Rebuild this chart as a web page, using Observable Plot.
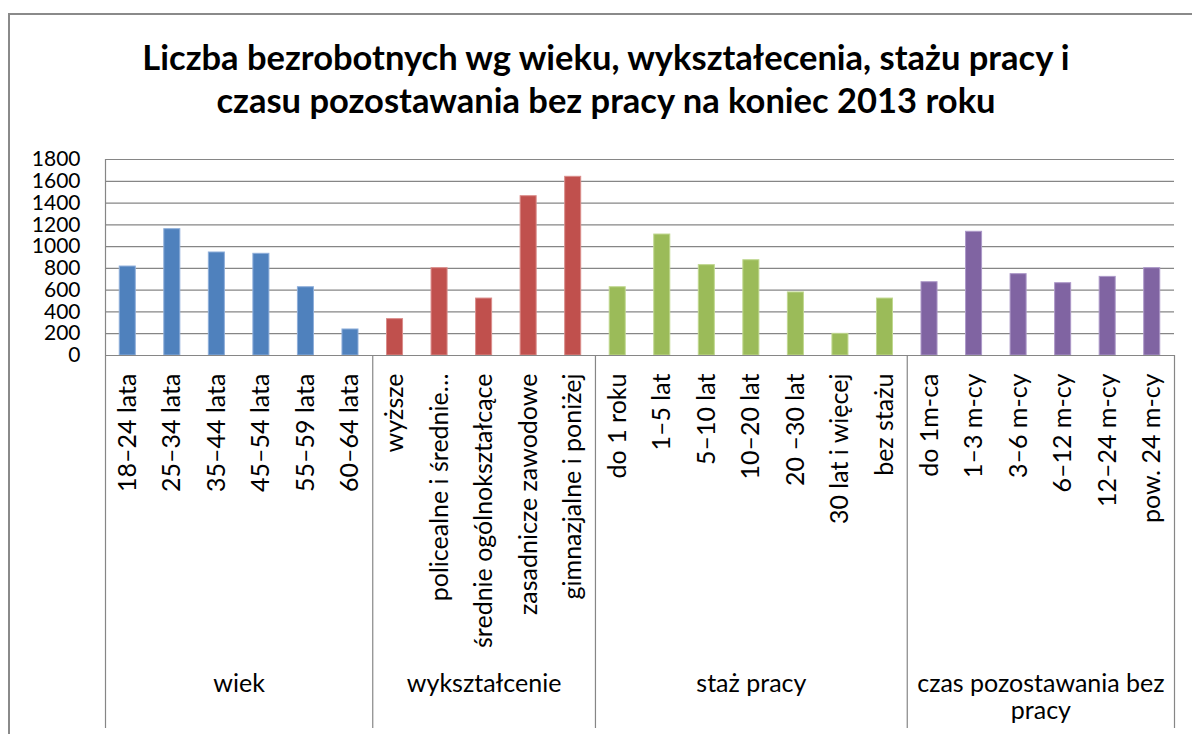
<!DOCTYPE html>
<html>
<head>
<meta charset="utf-8">
<script src="https://cdn.jsdelivr.net/npm/d3@7"></script>
<script src="https://cdn.jsdelivr.net/npm/@observablehq/plot@0.6"></script>
<style>
  html, body { margin: 0; padding: 0; background: #fff; }
  #wrap { position: relative; width: 1192px; height: 734px; overflow: hidden; font-family: Lato, "Open Sans", sans-serif; }
  #border { position: absolute; left: 8px; top: 13px; width: 1250px; height: 800px; border: 2px solid #8a8a8a; box-sizing: border-box; }
  #title { position: relative; height: 140px; box-sizing: border-box; padding-top: 35px; text-align: center; font-weight: 700; font-size: 34.5px; line-height: 43px; color: #000; padding-left: 20px; white-space: nowrap; }
  #chart { position: relative; }
</style>
</head>
<body>
<div id="wrap">
  <div id="border"></div>
  <div id="title"></div>
  <div id="chart"></div>
</div>
<script>
const titleLines = ["Liczba bezrobotnych wg wieku, wykształecenia, stażu pracy i", "czasu pozostawania bez pracy na koniec 2013 roku"];

const groups = ["wiek", "wykształcenie", "staż pracy", "czas pozostawania bez pracy"];
const groupColors = ["#4F81BD", "#C0504D", "#9BBB59", "#8064A2"];
const groupStrokes = ["#8EAEDA", "#DA8C8A", "#C0D890", "#AC98C8"];

const wiekCats = ["18–24 lata", "25–34 lata", "35–44 lata", "45–54 lata", "55–59 lata", "60–64 lata"];
const wiekValues = [817, 1160, 946, 934, 627, 239];

const wyksztCats = ["wyższe", "policealne i średnie…", "średnie ogólnokształcące", "zasadnicze zawodowe", "gimnazjalne i poniżej"];
const wyksztValues = [334, 802, 523, 1463, 1641];

const stazCats = ["do 1 roku", "1–5 lat", "5–10 lat", "10–20 lat", "20 –30 lat", "30 lat i więcej", "bez stażu"];
const stazValues = [627, 1111, 830, 875, 579, 199, 523];

const czasCats = ["do 1m-ca", "1–3 m-cy", "3–6 m-cy", "6–12 m-cy", "12–24 m-cy", "pow. 24 m-cy"];
const czasValues = [673, 1136, 747, 664, 722, 802];

const yTicks = [0, 200, 400, 600, 800, 1000, 1200, 1400, 1600, 1800];

// build table
const groupCats = [wiekCats, wyksztCats, stazCats, czasCats];
const groupVals = [wiekValues, wyksztValues, stazValues, czasValues];
const rows = [];
const groupSpans = [];
let idx = 0;
groupCats.forEach((cats, g) => {
  const start = idx;
  cats.forEach((c, j) => { rows.push({i: idx, cat: c, value: groupVals[g][j], group: groups[g]}); idx++; });
  groupSpans.push({group: groups[g], start, end: idx, mid: (start + idx) / 2});
});
const N = idx;
const innerBounds = groupSpans.map(s => s.end);

document.getElementById("title").innerHTML = titleLines.map(t => `<div>${t}</div>`).join("");

const gridColor = "#868686";
const barPad = 0.32;

const plot = Plot.plot({
  width: 1192,
  height: 594,
  marginTop: 19,
  marginBottom: 379,
  marginLeft: 105,
  marginRight: 18,
  style: {fontFamily: "Lato, 'Open Sans', sans-serif", color: "#000", background: "transparent", overflow: "visible"},
  x: {domain: [0, N], axis: null},
  y: {domain: [0, 1800], axis: null},
  color: {domain: groups, range: groupColors},
  marks: [
    Plot.gridY(yTicks, {stroke: gridColor, strokeOpacity: 1, strokeWidth: 1.2}),
    Plot.axisY(yTicks, {tickSize: 0, tickPadding: 25, fontSize: 21, fill: "#000", label: null, tickFormat: d => String(d)}),
    Plot.rectY(rows, {
      x1: d => d.i + barPad, x2: d => d.i + 1 - barPad, y: "value",
      fill: "group",
      stroke: d => groupStrokes[groups.indexOf(d.group)],
      strokeWidth: 1
    }),
    Plot.ruleY([0], {stroke: gridColor, strokeWidth: 1.2}),
    Plot.ruleX([0], {stroke: gridColor, strokeWidth: 1.2, insetBottom: -373}),
    Plot.ruleX(innerBounds, {stroke: gridColor, strokeWidth: 1.2, insetTop: 196, insetBottom: -373}),
    Plot.text(rows, {
      x: d => d.i + 0.5, text: "cat", frameAnchor: "bottom", dy: 18,
      rotate: -90, textAnchor: "end", lineAnchor: "middle", fontSize: 25, fill: "#000"
    }),
    Plot.text(groupSpans, {
      x: "mid", text: "group", frameAnchor: "bottom", dy: 317,
      lineAnchor: "top", fontSize: 25, lineHeight: 1.08, lineWidth: 12, fill: "#000"
    })
  ]
});
document.getElementById("chart").appendChild(plot);
</script>
</body>
</html>
